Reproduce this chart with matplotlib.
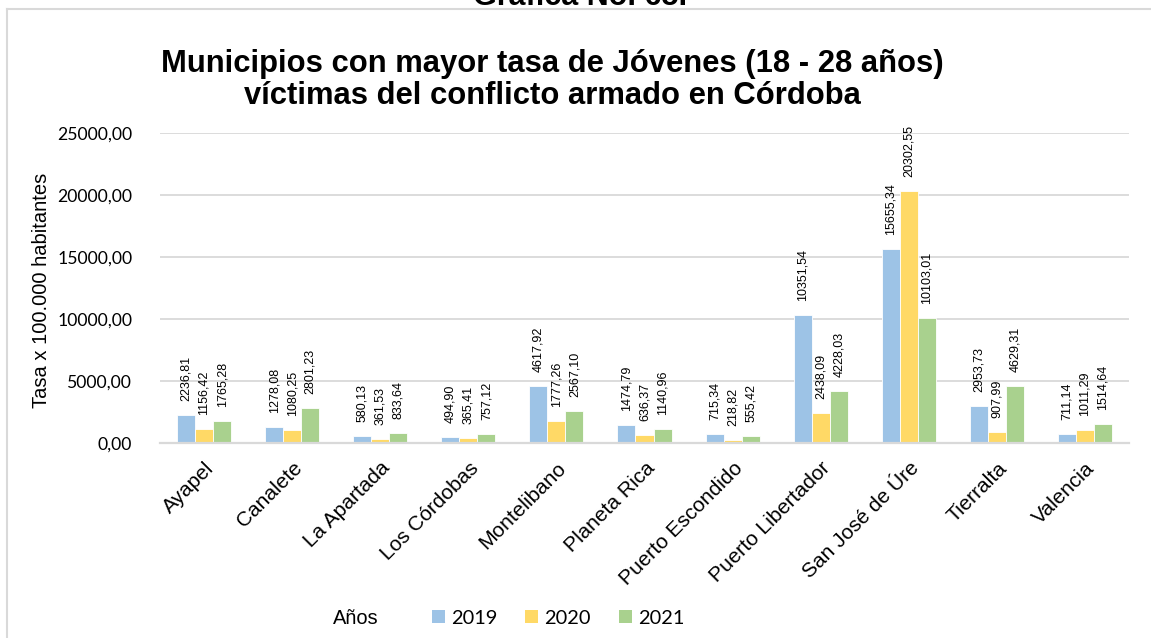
import matplotlib
matplotlib.use("Agg")
import matplotlib.pyplot as plt
from matplotlib.patches import Patch
from matplotlib.lines import Line2D
from matplotlib.ticker import FuncFormatter, MultipleLocator
from matplotlib.transforms import ScaledTranslation
import numpy as np

municipios = ["Ayapel", "Canalete", "La Apartada", "Los Córdobas", "Montelibano",
              "Planeta Rica", "Puerto Escondido", "Puerto Libertador",
              "San José de Úre", "Tierralta", "Valencia"]
years = ["2019", "2020", "2021"]
v2019 = [2236.81, 1278.08, 580.13, 494.90, 4617.92, 1474.79, 715.34, 10351.54, 15655.34, 2953.73, 711.14]
v2020 = [1156.42, 1080.25, 361.53, 365.41, 1777.26, 636.37, 218.82, 2438.09, 20302.55, 907.99, 1011.29]
v2021 = [1765.28, 2801.23, 833.64, 757.12, 2567.10, 1140.96, 555.42, 4228.03, 10103.01, 4629.31, 1514.64]
colors = ["#9DC3E6", "#FFD966", "#A9D18E"]

W, H = 1151, 638
fig = plt.figure(figsize=(W / 100, H / 100), dpi=100)
fig.patch.set_facecolor("white")

def fx(px):
    return px / W

def fy(py):
    return 1 - py / H

# chart frame lines
fig.add_artist(Line2D([fx(7), fx(W)], [fy(9), fy(9)], color="#d9d9d9", lw=1.5, transform=fig.transFigure))
fig.add_artist(Line2D([fx(7), fx(7)], [fy(9), fy(H)], color="#d9d9d9", lw=1.5, transform=fig.transFigure))

# cut-off heading above frame (as in the reference)
fig.text(fx(580), fy(5), "Gráfica No. 65.", ha="center", va="baseline",
         fontsize=22, fontweight="bold", family="Liberation Sans")

left, right, top, bottom = 160, 1129, 133, 443
ax = fig.add_axes([fx(left), fy(bottom), fx(right - left), (bottom - top) / H])

x = np.arange(len(municipios))
bw = 0.205
series = [v2019, v2020, v2021]
for j, (vals, c) in enumerate(zip(series, colors)):
    xs = x + (j - 1) * bw
    ax.bar(xs, vals, width=bw, color=c, edgecolor="white", linewidth=0.6, zorder=3)
    for xi, v in zip(xs, vals):
        ax.annotate(f"{v:.2f}".replace(".", ","), (xi, v), xytext=(0, 14),
                    textcoords="offset pixels", rotation=90, ha="center", va="bottom",
                    fontsize=9, family="Liberation Sans", annotation_clip=False)

ax.set_xlim(-0.5, len(municipios) - 0.5)
ax.set_ylim(0, 25000)
ax.yaxis.set_major_locator(MultipleLocator(5000))
ax.yaxis.set_major_formatter(FuncFormatter(lambda v, p: f"{v:.2f}".replace(".", ",")))
ax.grid(axis="y", color="#d9d9d9", lw=1.3, zorder=0)
for s in ["top", "right", "left"]:
    ax.spines[s].set_visible(False)
ax.spines["bottom"].set_color("#d9d9d9")
ax.spines["bottom"].set_linewidth(1.6)
ax.spines["bottom"].set_zorder(4)
ax.tick_params(axis="both", length=0)
ax.tick_params(axis="y", pad=20, labelsize=12.7)
for t in ax.get_yticklabels():
    t.set_family("Lato")
ax.set_xticks(x)
ax.set_xticklabels(municipios, rotation=45, ha="right", va="center",
                   rotation_mode="anchor", fontsize=15, family="Liberation Sans")
ax.tick_params(axis="x", pad=16)
shift = ScaledTranslation(7 / 100, 0, fig.dpi_scale_trans)
for t in ax.get_xticklabels():
    t.set_transform(t.get_transform() + shift)

fig.text(fx(42), fy(290), "Tasa x 100.000 habitantes", rotation=90, ha="center", va="center",
         fontsize=14.5, family="Liberation Sans")

fig.text(fx(552), fy(80), "Municipios con mayor tasa de Jóvenes (18 - 28 años)\nvíctimas del conflicto armado en Córdoba",
         ha="center", va="center", fontsize=22.3, fontweight="bold", family="Liberation Sans",
         linespacing=1.1)

# legend
fig.text(fx(333), fy(618), "Años", ha="left", va="center", fontsize=14.4, family="Liberation Sans")
handles = [Patch(facecolor=c, edgecolor="none") for c in colors]
fig.legend(handles, years, loc="center left", bbox_to_anchor=(fx(432), fy(618)),
           ncol=3, frameon=False, borderpad=0, borderaxespad=0,
           handlelength=0.65, handleheight=0.65, handletextpad=0.3,
           columnspacing=1.4, prop={"family": "Lato", "size": 14.4})

fig.savefig("out.png", dpi=100, facecolor="white")
